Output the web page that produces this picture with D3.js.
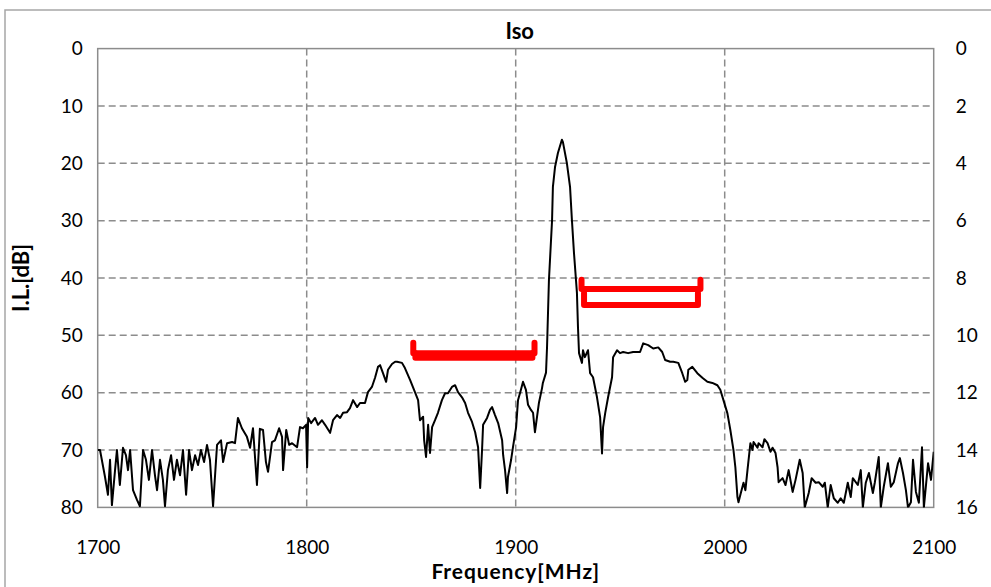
<!DOCTYPE html>
<html>
<head>
<meta charset="utf-8">
<script src="https://cdn.jsdelivr.net/npm/d3@7"></script>
<style>
  html, body { margin: 0; padding: 0; background: #fff; }
  svg { display: block; }
  text { font-family: "Lato", "Open Sans", sans-serif; fill: #000; }
</style>
</head>
<body>
<svg id="chart" width="991" height="587"></svg>
<script>
// ---------- DATA ----------
const freqMHz = [1700,1701.1,1703.5,1704.9,1705.9,1706.8,1708.3,1709.2,1710.6,1712.1,1713.5,1714.5,1715.5,1716.9,1718.8,1720.2,1721.7,1723.1,1724.5,1726.0,1727.4,1728.4,1729.8,1731.2,1732.2,1733.6,1735.1,1736.5,1737.9,1739.4,1740.8,1742.3,1743.7,1745.1,1746.6,1748.0,1749.4,1750.9,1752.3,1753.7,1755.2,1757.1,1759.0,1760.0,1761.9,1764.3,1765.7,1767.1,1769.0,1771.4,1772.9,1774.3,1776.2,1777.6,1779.1,1780.5,1781.5,1783.4,1784.8,1786.8,1788.2,1788.7,1790.2,1791.6,1793.0,1795.4,1796.8,1798.2,1799.7,1800.2,1800.7,1802.1,1804.0,1805.4,1807.3,1808.8,1811.2,1812.6,1814.5,1816.0,1817.4,1819.3,1820.7,1822.2,1824.1,1825.5,1827.9,1829.3,1831.2,1832.7,1834.1,1835.1,1836.5,1838.0,1838.9,1840.8,1842.3,1843.2,1845.6,1847.0,1849.5,1851.8,1853.3,1854.2,1855.7,1856.2,1857.1,1858.1,1859.0,1860.0,1861.4,1862.8,1864.7,1866.2,1867.6,1869.5,1871.0,1872.4,1874.3,1875.8,1877.2,1879.1,1880.6,1882.0,1883.0,1883.9,1884.4,1886.3,1887.7,1888.7,1890.1,1891.6,1893.5,1894.0,1894.9,1895.9,1896.3,1897.8,1898.7,1900.2,1901.1,1902.5,1903.5,1904.9,1905.9,1907.3,1908.3,1909.2,1910.2,1911.1,1912.6,1913.0,1914.5,1915.0,1915.9,1917.4,1917.8,1918.8,1920.2,1922.1,1922.6,1924.5,1926.0,1926.9,1927.9,1929.3,1929.8,1930.3,1931.7,1932.2,1933.1,1934.6,1935.6,1937.0,1938.9,1940.4,1941.3,1941.8,1942.8,1944.2,1946.1,1946.6,1948.5,1949.9,1951.4,1953.8,1956.2,1959.5,1961.0,1963.4,1965.8,1968.2,1970.1,1971.5,1973.9,1975.4,1977.8,1979.7,1981.1,1982.1,1982.6,1984.5,1986.9,1989.3,1991.7,1994.1,1996.5,1997.9,1999.4,2001.3,2002.7,2004.2,2005.1,2006.1,2006.6,2007.5,2009.0,2009.9,2010.9,2012.3,2013.3,2013.8,2015.7,2016.2,2018.1,2019.0,2020.5,2021.9,2022.9,2024.3,2025.3,2025.8,2027.7,2029.1,2030.6,2032.5,2033.9,2035.9,2037.3,2038.3,2040.2,2041.6,2043.5,2045.0,2046.9,2047.9,2049.3,2050.7,2052.2,2054.1,2055.5,2057.0,2058.9,2060.3,2061.3,2063.7,2065.1,2066.1,2067.5,2069.0,2070.9,2071.8,2073.7,2074.7,2076.1,2078.1,2079.5,2080.9,2082.9,2083.8,2085.3,2086.7,2087.7,2089.1,2090.1,2091.5,2092.9,2094.4,2095.3,2097.3,2098.7,2100.0];
const isoDB = [70.0,70.0,74.7,77.8,71.7,79.6,73.5,70.0,76.1,69.6,70.9,73.5,70.0,77.0,78.7,79.8,70.0,71.7,75.2,70.0,74.4,77.0,71.7,75.2,79.8,73.5,70.9,75.2,71.7,74.4,70.0,77.8,70.0,73.5,70.9,72.6,70.0,72.1,69.1,71.7,79.8,69.1,68.3,72.1,68.8,68.6,68.8,64.4,66.2,67.7,69.6,66.2,76.1,66.3,66.5,72.1,73.8,68.6,68.3,66.2,67.7,73.5,66.5,69.1,68.8,69.5,66.0,66.2,65.6,73.0,64.4,65.3,64.4,65.6,64.8,65.6,67.0,64.8,63.9,64.4,63.5,63.4,62.7,61.3,62.5,61.8,61.8,59.9,59.0,57.4,55.5,55.2,56.6,58.1,56.0,55.0,54.6,54.6,54.8,55.7,57.8,59.9,61.3,64.8,64.2,68.3,71.2,65.6,70.5,66.0,64.8,63.5,61.3,60.1,60.1,59.0,58.7,59.9,60.8,61.8,63.5,65.1,66.9,69.5,76.6,70.0,65.6,64.4,63.0,62.5,63.9,65.3,68.3,70.9,73.5,77.5,74.7,71.7,69.5,66.0,61.3,59.5,58.1,59.5,62.1,63.0,63.5,66.9,64.2,61.8,59.2,58.3,56.5,52.0,40.4,29.9,24.1,20.7,18.2,15.9,16.3,20.0,24.1,29.9,35.7,42.6,48.6,53.1,54.8,52.6,53.8,52.6,56.6,57.3,60.8,64.3,70.6,66.0,63.6,60.8,57.3,53.8,52.6,53.1,52.9,53.1,52.9,52.9,51.4,51.7,52.3,52.1,52.9,54.3,54.6,54.6,54.8,56.6,58.1,57.8,56.0,55.5,56.6,57.4,58.1,58.3,58.7,59.5,61.3,63.6,66.5,70.0,73.0,78.2,79.1,77.8,75.7,77.0,73.5,68.8,70.0,68.6,69.6,68.8,69.5,68.1,68.8,70.3,69.6,70.5,73.0,75.6,74.9,76.1,73.5,77.3,75.2,71.7,74.0,80.0,77.5,74.9,75.7,75.6,76.4,75.7,80.0,76.1,78.4,79.2,78.4,79.2,75.7,78.2,74.9,76.1,73.5,80.0,75.7,74.0,77.5,75.7,71.2,80.0,76.4,72.3,76.4,75.6,72.3,71.4,74.0,77.0,80.0,79.1,71.7,77.3,79.2,69.5,80.0,72.3,75.2,70.3];

// spec masks (frequency MHz, dB)
const maskLowUpperF  = [1851, 1851, 1909, 1909];
const maskLowUpperDB = [51.3, 53.1, 53.1, 51.3];
const maskLowLowerF  = [1852, 1852, 1908, 1908];
const maskLowLowerDB = [53.1, 53.9, 53.9, 53.1];
const maskHighUpperF  = [1931.5, 1931.5, 1988.4, 1988.4];
const maskHighUpperDB = [40.3, 41.9, 41.9, 40.3];
const maskHighLowerF  = [1932.7, 1932.7, 1987.2, 1987.2];
const maskHighLowerDB = [42.6, 44.7, 44.7, 42.6];

const xTicks = [1700, 1800, 1900, 2000, 2100];
const yTicksLeft = [0, 10, 20, 30, 40, 50, 60, 70, 80];
const yTicksRight = [0, 2, 4, 6, 8, 10, 12, 14, 16];

const titleText = "Iso";
const xTitle = "Frequency[MHz]";
const yTitle = "I.L.[dB]";

// ---------- CHART ----------
const svg = d3.select("#chart");
const L = 97.7, R = 933.7, T = 48.6, B = 507.4;
const x = d3.scaleLinear().domain([1700, 2100]).range([L, R]);
const y = d3.scaleLinear().domain([0, 80]).range([T, B]);
const y2 = d3.scaleLinear().domain([0, 16]).range([T, B]);

// outer chart border
svg.append("rect").attr("x", 5).attr("y", 10).attr("width", 1000).attr("height", 600)
  .attr("fill", "none").attr("stroke", "#a6a6a6").attr("stroke-width", 1.5);

svg.append("defs").append("clipPath").attr("id", "plotclip")
  .append("rect").attr("x", L).attr("y", T - 1).attr("width", R - L).attr("height", B - T + 1);

// grid
const grid = svg.append("g").attr("stroke", "#8c8c8c").attr("stroke-width", 1.5)
  .attr("stroke-dasharray", "7,4");
grid.selectAll("line.h").data(yTicksLeft.slice(1, -1)).join("line")
  .attr("x1", L).attr("x2", R).attr("y1", d => y(d)).attr("y2", d => y(d));
grid.selectAll("line.v").data(xTicks.slice(1, -1)).join("line")
  .attr("x1", d => x(d)).attr("x2", d => x(d)).attr("y1", T).attr("y2", B);

// plot frame
svg.append("rect").attr("x", L).attr("y", T).attr("width", R - L).attr("height", B - T)
  .attr("fill", "none").attr("stroke", "#8c8c8c").attr("stroke-width", 1.5);

// axes (labels only)
const fs = 19;
const axL = svg.append("g").attr("transform", `translate(${L},0)`)
  .call(d3.axisLeft(y).tickValues(yTicksLeft).tickSize(0).tickPadding(15));
const axR = svg.append("g").attr("transform", `translate(${R},0)`)
  .call(d3.axisRight(y2).tickValues(yTicksRight).tickSize(0).tickPadding(22));
const axB = svg.append("g").attr("transform", `translate(0,${B})`)
  .call(d3.axisBottom(x).tickValues(xTicks).tickSize(0).tickPadding(33).tickFormat(d3.format("d")));
[axL, axR, axB].forEach(a => {
  a.select(".domain").remove();
  a.selectAll("text").style("font-size", fs + "px").style("font-family", "Lato, 'Open Sans', sans-serif").attr("fill", "#000");
});

// series
const pts = freqMHz.map((f, i) => [f, isoDB[i]]);
svg.append("path").datum(pts)
  .attr("clip-path", "url(#plotclip)")
  .attr("fill", "none").attr("stroke", "#000").attr("stroke-width", 2)
  .attr("stroke-linejoin", "round")
  .attr("d", d3.line().x(d => x(d[0])).y(d => y(d[1])));

// masks
const maskLine = d3.line().x(d => x(d[0])).y(d => y(d[1]));
function mask(fs_, dbs) { return fs_.map((f, i) => [f, dbs[i]]); }
[[maskLowUpperF, maskLowUpperDB], [maskLowLowerF, maskLowLowerDB],
 [maskHighUpperF, maskHighUpperDB], [maskHighLowerF, maskHighLowerDB]].forEach(([f, d]) => {
  svg.append("path").datum(mask(f, d))
    .attr("fill", "none").attr("stroke", "#ff0000").attr("stroke-width", 6)
    .attr("stroke-linejoin", "round").attr("stroke-linecap", "round")
    .attr("d", maskLine);
});

// titles
svg.append("text").attr("x", (L + R) / 2 + 4).attr("y", 39).attr("text-anchor", "middle")
  .style("font-size", "22px").style("font-weight", "bold").text(titleText);
svg.append("text").attr("x", (L + R) / 2).attr("y", 579).attr("text-anchor", "middle")
  .style("font-size", "21px").style("font-weight", "bold").style("letter-spacing", "0.9px").text(xTitle);
svg.append("text").attr("transform", `translate(29,${(T + B) / 2}) rotate(-90)`)
  .attr("text-anchor", "middle").style("font-size", "22px").style("font-weight", "bold").text(yTitle);
</script>
</body>
</html>
